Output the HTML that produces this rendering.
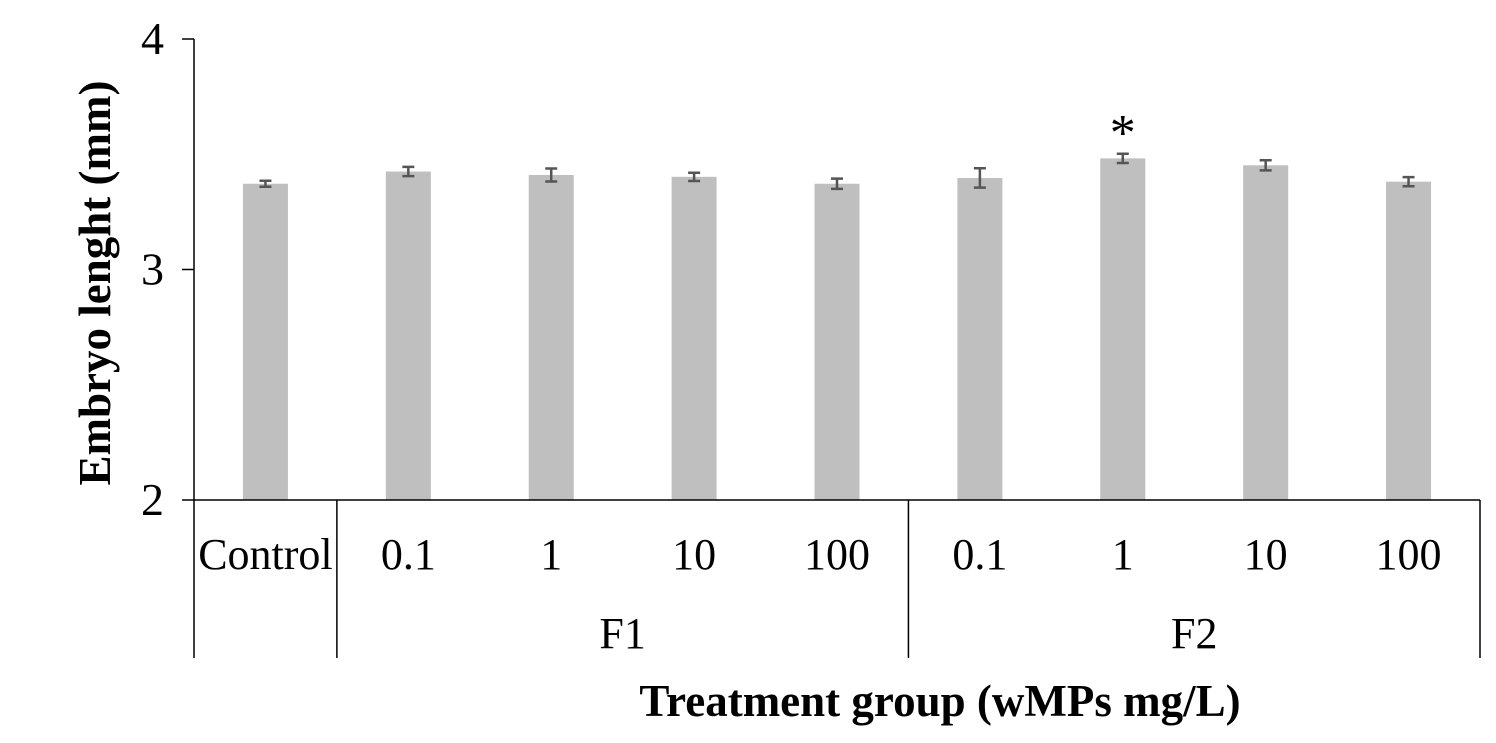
<!DOCTYPE html>
<html><head><meta charset="utf-8"><style>
body{margin:0;background:#fff}
svg text{font-family:"Liberation Serif",serif;fill:#000}
</style></head><body>
<svg id="c" width="1496" height="738"></svg>
<script>
const categories=["Control","0.1","1","10","100","0.1","1","10","100"];
const groups=["F1","F2"];
const values=[3.372,3.425,3.41,3.402,3.372,3.397,3.482,3.452,3.381];
const errors=[0.013,0.02,0.028,0.018,0.022,0.042,0.02,0.022,0.02];
const yTicks=[2,3,4];
const sig=[false,false,false,false,false,false,true,false,false];
const NS="http://www.w3.org/2000/svg";
const svg=document.getElementById('c');
const x0=194,x1=1480,yTop=39,yBot=500,ymin=2,ymax=4;
const step=(x1-x0)/categories.length;
const xc=i=>x0+step*(i+0.5);
const y=v=>yBot-(v-ymin)/(ymax-ymin)*(yBot-yTop);
function mk(t,a,txt){const e=document.createElementNS(NS,t);for(const k in a)e.setAttribute(k,a[k]);if(txt!=null)e.textContent=txt;svg.appendChild(e);return e;}
const bw=45;
values.forEach((v,i)=>{
 const b=mk('rect',{x:xc(i)-bw/2,y:y(v),width:bw,height:yBot-y(v),fill:'#bfbfbf'});
 
 
 const g=mk('path',{d:`M${xc(i)},${y(v+errors[i])}V${y(v-errors[i])}M${xc(i)-6},${y(v+errors[i])}h12M${xc(i)-6},${y(v-errors[i])}h12`,stroke:'#555',"stroke-width":2.5,fill:'none'});
 
 
 if(sig[i]){const s=mk('text',{x:xc(i),y:y(v+errors[i])-4,"text-anchor":'middle',"font-size":52},'*');
 
 }
 const l=mk('text',{x:xc(i),y:569,"text-anchor":'middle',"font-size":44},categories[i]);
 
 
});
yTicks.forEach(t=>{
 mk('line',{x1:182,x2:x0,y1:y(t),y2:y(t),stroke:'#000',"stroke-width":1.5});
 const l=mk('text',{x:164,y:y(t)+15,"text-anchor":'end',"font-size":46},t);
 
 
});
mk('line',{x1:x0,x2:x0,y1:yTop,y2:658,stroke:'#000',"stroke-width":1.5});
mk('line',{x1:x0,x2:x1,y1:yBot,y2:yBot,stroke:'#000',"stroke-width":1.5});
[1,5,9].forEach(k=>{const xx=x0+step*k;mk('line',{x1:xx,x2:xx,y1:yBot,y2:658,stroke:'#000',"stroke-width":1.5});});
groups.forEach((g,j)=>{const l=mk('text',{x:x0+step*(1+4*j+2),y:648,"text-anchor":'middle',"font-size":44},g);
 
 });
const xt=mk('text',{x:940,y:716,"text-anchor":'middle',"font-size":45,"font-weight":'bold'},'Treatment group (wMPs mg/L)');


const yt=mk('text',{x:0,y:0,"text-anchor":'middle',"font-size":45,"font-weight":'bold',transform:'translate(110,283) rotate(-90)'},'Embryo lenght (mm)');


</script>
</body></html>
